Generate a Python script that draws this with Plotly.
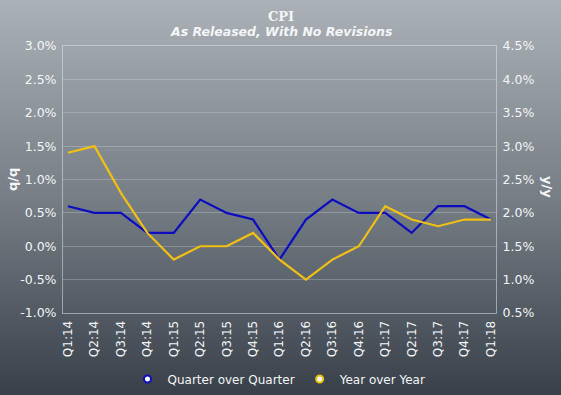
import base64, struct, zlib
import plotly.graph_objects as go

quarters = ["Q1:14", "Q2:14", "Q3:14", "Q4:14", "Q1:15", "Q2:15", "Q3:15", "Q4:15",
            "Q1:16", "Q2:16", "Q3:16", "Q4:16", "Q1:17", "Q2:17", "Q3:17", "Q4:17", "Q1:18"]
qoq = [0.6, 0.5, 0.5, 0.2, 0.2, 0.7, 0.5, 0.4, -0.2, 0.4, 0.7, 0.5, 0.5, 0.2, 0.6, 0.6, 0.4]
yoy = [2.9, 3.0, 2.3, 1.7, 1.3, 1.5, 1.5, 1.7, 1.3, 1.0, 1.3, 1.5, 2.1, 1.9, 1.8, 1.9, 1.9]
left_ticks = [-1.0, -0.5, 0.0, 0.5, 1.0, 1.5, 2.0, 2.5, 3.0]
right_ticks = [0.5, 1.0, 1.5, 2.0, 2.5, 3.0, 3.5, 4.0, 4.5]

W, H = 561, 395
ML, MR, MT, MB = 63, 65, 46, 82
PW, PH = W - ML - MR, H - MT - MB

# vertical gradient background as a PNG data URI
top_c = (171, 177, 183)
mid_c = (118, 126, 134)
bot_c = (56, 64, 74)
rows = b""
for i in range(H):
    t = i / (H - 1)
    if t < 0.5:
        a, b, f = top_c, mid_c, t / 0.5
    else:
        a, b, f = mid_c, bot_c, (t - 0.5) / 0.5
    c = bytes(int(round(a[k] + (b[k] - a[k]) * f)) for k in range(3))
    rows += b"\x00" + c
def chunk(tag, data):
    return struct.pack(">I", len(data)) + tag + data + struct.pack(">I", zlib.crc32(tag + data) & 0xffffffff)
png = b"\x89PNG\r\n\x1a\n" + chunk(b"IHDR", struct.pack(">IIBBBBB", 1, H, 8, 2, 0, 0, 0)) \
      + chunk(b"IDAT", zlib.compress(rows)) + chunk(b"IEND", b"")
uri = "data:image/png;base64," + base64.b64encode(png).decode()

BLUE = "#0c0cc0"
GOLD = "#f2c012"
FONT = "DejaVu Sans"
TXT = "#f4f6f8"
LINEC = "rgba(220,226,232,0.55)"

fig = go.Figure()
fig.add_trace(go.Scatter(x=quarters, y=qoq, mode="lines", line=dict(color=BLUE, width=2.2),
                         showlegend=False, yaxis="y"))
fig.add_trace(go.Scatter(x=quarters, y=yoy, mode="lines", line=dict(color=GOLD, width=2.2),
                         showlegend=False, yaxis="y2"))
fig.add_trace(go.Scatter(x=[None], y=[None], mode="markers", name="Quarter over Quarter",
                         marker=dict(symbol="circle", size=7, color="white", line=dict(color=BLUE, width=2))))
fig.add_trace(go.Scatter(x=[None], y=[None], mode="markers", name="Year over Year",
                         marker=dict(symbol="circle", size=7, color="white", line=dict(color=GOLD, width=2))))

fig.update_layout(
    width=W, height=H,
    margin=dict(l=ML, r=MR, t=MT, b=MB, autoexpand=False),
    paper_bgcolor="#5a636c",
    plot_bgcolor="rgba(0,0,0,0)",
    font=dict(family=FONT, color=TXT, size=12),
    images=[dict(source=uri, xref="paper", yref="paper", x=-ML / PW, y=1 + MT / PH,
                 sizex=W / PW, sizey=H / PH, sizing="stretch", layer="below", xanchor="left", yanchor="top")],
    xaxis=dict(type="category", range=[-0.19, 16.19], tickangle=-90, showgrid=False,
               ticks="", tickfont=dict(size=12, color=TXT), showline=True, ticklabelstandoff=2,
               linecolor=LINEC, linewidth=1, mirror=True, zeroline=False),
    yaxis=dict(range=[-1.0, 3.0], tickvals=left_ticks, ticktext=[f"{v:.1f}%" for v in left_ticks],
               showgrid=True, gridcolor="rgba(220,226,232,0.28)", gridwidth=1, zeroline=False,
               showline=True, linecolor=LINEC, linewidth=1, ticklabelstandoff=3,
               ticks="", tickfont=dict(size=12.5, color=TXT)),
    yaxis2=dict(range=[0.5, 4.5], tickvals=right_ticks, ticktext=[f"{v:.1f}%" for v in right_ticks],
                overlaying="y", side="right", showgrid=False, zeroline=False,
                showline=True, linecolor=LINEC, linewidth=1, ticklabelstandoff=3,
                ticks="", tickfont=dict(size=12.5, color=TXT)),
    legend=dict(orientation="h", x=0.5, xanchor="center", y=-(379 - 313) / PH, yanchor="middle",
                font=dict(size=12, color=TXT), bgcolor="rgba(0,0,0,0)", itemwidth=30),
    annotations=[
        dict(text="<b>CPI</b>", xref="paper", yref="paper", x=(W / 2 - ML) / PW, y=1 + (MT - 17) / PH,
             showarrow=False, font=dict(family="DejaVu Serif", size=13, color=TXT),
             xanchor="center", yanchor="middle"),
        dict(text="<b><i>As Released, With No Revisions</i></b>", xref="paper", yref="paper",
             x=(W / 2 - ML) / PW, y=1 + (MT - 31) / PH, showarrow=False,
             font=dict(size=12.5, color=TXT), xanchor="center", yanchor="middle"),
        dict(text="<b>q/q</b>", xref="paper", yref="paper", x=-(ML - 12) / PW, y=(313 - 180) / PH,
             showarrow=False, textangle=-90, font=dict(size=13, color=TXT), xanchor="center", yanchor="middle"),
        dict(text="<b>y/y</b>", xref="paper", yref="paper", x=1 + (548 - ML - PW) / PW, y=(313 - 187) / PH,
             showarrow=False, textangle=90, font=dict(size=13, color=TXT), xanchor="center", yanchor="middle"),
    ],
)

fig.write_html("out.html")
